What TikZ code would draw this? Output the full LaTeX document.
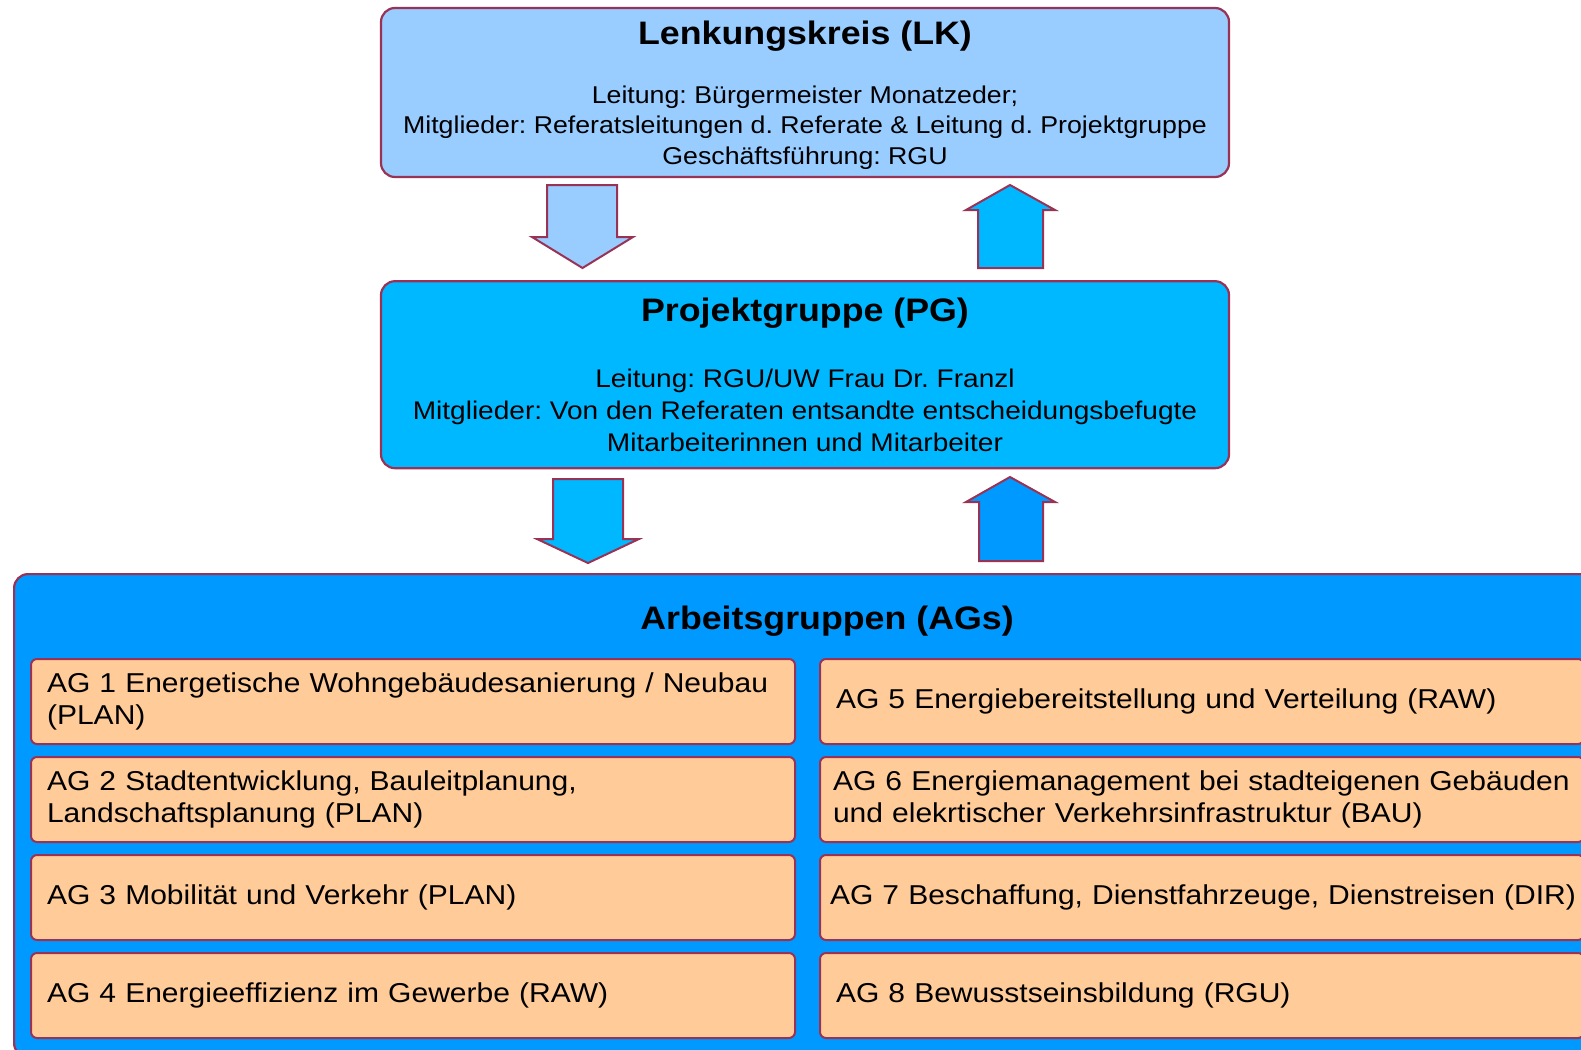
\documentclass[tikz,border=0pt]{standalone}
\usepackage{fontspec}
\setmainfont{Liberation Sans}[FakeStretch=1.1]
\usepackage{tikz}
\usetikzlibrary{positioning}
\frenchspacing

\definecolor{lkblue}{HTML}{99CCFF}
\definecolor{pgblue}{HTML}{00B8FF}
\definecolor{agblue}{HTML}{0099FF}
\definecolor{agorange}{HTML}{FFCC99}
\definecolor{rim}{HTML}{993355}

\newcommand\headfont{\fontsize{32.5}{39}\selectfont\bfseries}
\newcommand\lkfont{\fontsize{24.3}{30.2}\selectfont}
\newcommand\projfont{\fontsize{25.5}{31.7}\selectfont}
\newcommand\agfont{\fontsize{27.3}{31.7}\selectfont}

\begin{document}
\begin{tikzpicture}[x=1pt,y=-1pt,
    box/.style={draw=rim,line width=2.2pt,rounded corners=14pt,align=center,
      inner sep=0pt,minimum width=848pt},
    agbox/.style={draw=rim,line width=2pt,rounded corners=6pt,fill=agorange,
      minimum height=85pt,text width=732pt,inner xsep=16pt,align=left,font=\agfont},
    blockarrow/.style={draw=rim,line width=2pt,line join=miter}]
  \useasboundingbox (0,0) rectangle (1581,1049);
  \clip (0,0) rectangle (1581,1049);

  \node[box,fill=lkblue,minimum height=169pt,text depth=-2pt,font=\lkfont] (lk) at (805,92.5)
    {{\headfont Lenkungskreis (LK)}\\[29pt]
     Leitung: Bürgermeister Monatzeder;\\
     Mitglieder: Referatsleitungen d. Referate \& Leitung d. Projektgruppe\\
     Geschäftsführung: RGU};
  \node[box,fill=pgblue,minimum height=187pt,font=\projfont,below=102pt of lk] (pg)
    {{\headfont Projektgruppe (PG)}\\[34.8pt]
     Leitung: RGU/UW Frau Dr. Franzl\\
     Mitglieder: Von den Referaten entsandte entscheidungsbefugte\\
     Mitarbeiterinnen und Mitarbeiter};

  \node[draw=rim,line width=2.2pt,rounded corners=14pt,fill=agblue,anchor=north west,
    minimum width=1628pt,minimum height=483pt] (ags) at (13,573) {};
  \node[font=\headfont,anchor=base] (agtitle) at (827,629) {Arbeitsgruppen (AGs)};

  \node[agbox,anchor=north west] (ag1) at (30,658)
    {AG 1 Energetische Wohngebäudesanierung / Neubau\\ (PLAN)};
  \node[agbox,below=11pt of ag1] (ag2)
    {AG 2 Stadtentwicklung, Bauleitplanung,\\ Landschaftsplanung (PLAN)};
  \node[agbox,below=11pt of ag2] (ag3) {AG 3 Mobilität und Verkehr (PLAN)};
  \node[agbox,below=11pt of ag3] (ag4) {AG 4 Energieeffizienz im Gewerbe (RAW)};
  \node[agbox,right=23pt of ag1] (ag5) {AG 5 Energiebereitstellung und Verteilung (RAW)};
  \node[agbox,text width=738pt,inner xsep=13pt,below=11pt of ag5] (ag6)
    {AG 6 Energiemanagement bei stadteigenen Gebäuden\\ und elekrtischer Verkehrsinfrastruktur (BAU)};
  \node[agbox,text width=744pt,inner xsep=10pt,below=11pt of ag6] (ag7)
    {\mbox{AG 7 Beschaffung, Dienstfahrzeuge, Dienstreisen (DIR)}};
  \node[agbox,below=11pt of ag7] (ag8) {AG 8 Bewusstseinsbildung (RGU)};

  \draw[blockarrow,fill=lkblue] (547,185) -- (617,185) -- (617,237) -- (633,237)
    -- (582.5,268) -- (532,237) -- (547,237) -- cycle;
  \draw[blockarrow,fill=pgblue] (1010,185) -- (1055,210) -- (1043,210) -- (1043,268)
    -- (978,268) -- (978,210) -- (966,210) -- cycle;
  \draw[blockarrow,fill=pgblue] (553,479) -- (623,479) -- (623,539) -- (639,539)
    -- (588,563) -- (537,539) -- (553,539) -- cycle;
  \draw[blockarrow,fill=agblue] (1010,477) -- (1055,502) -- (1043,502) -- (1043,561)
    -- (979,561) -- (979,502) -- (966,502) -- cycle;
\end{tikzpicture}
\end{document}
